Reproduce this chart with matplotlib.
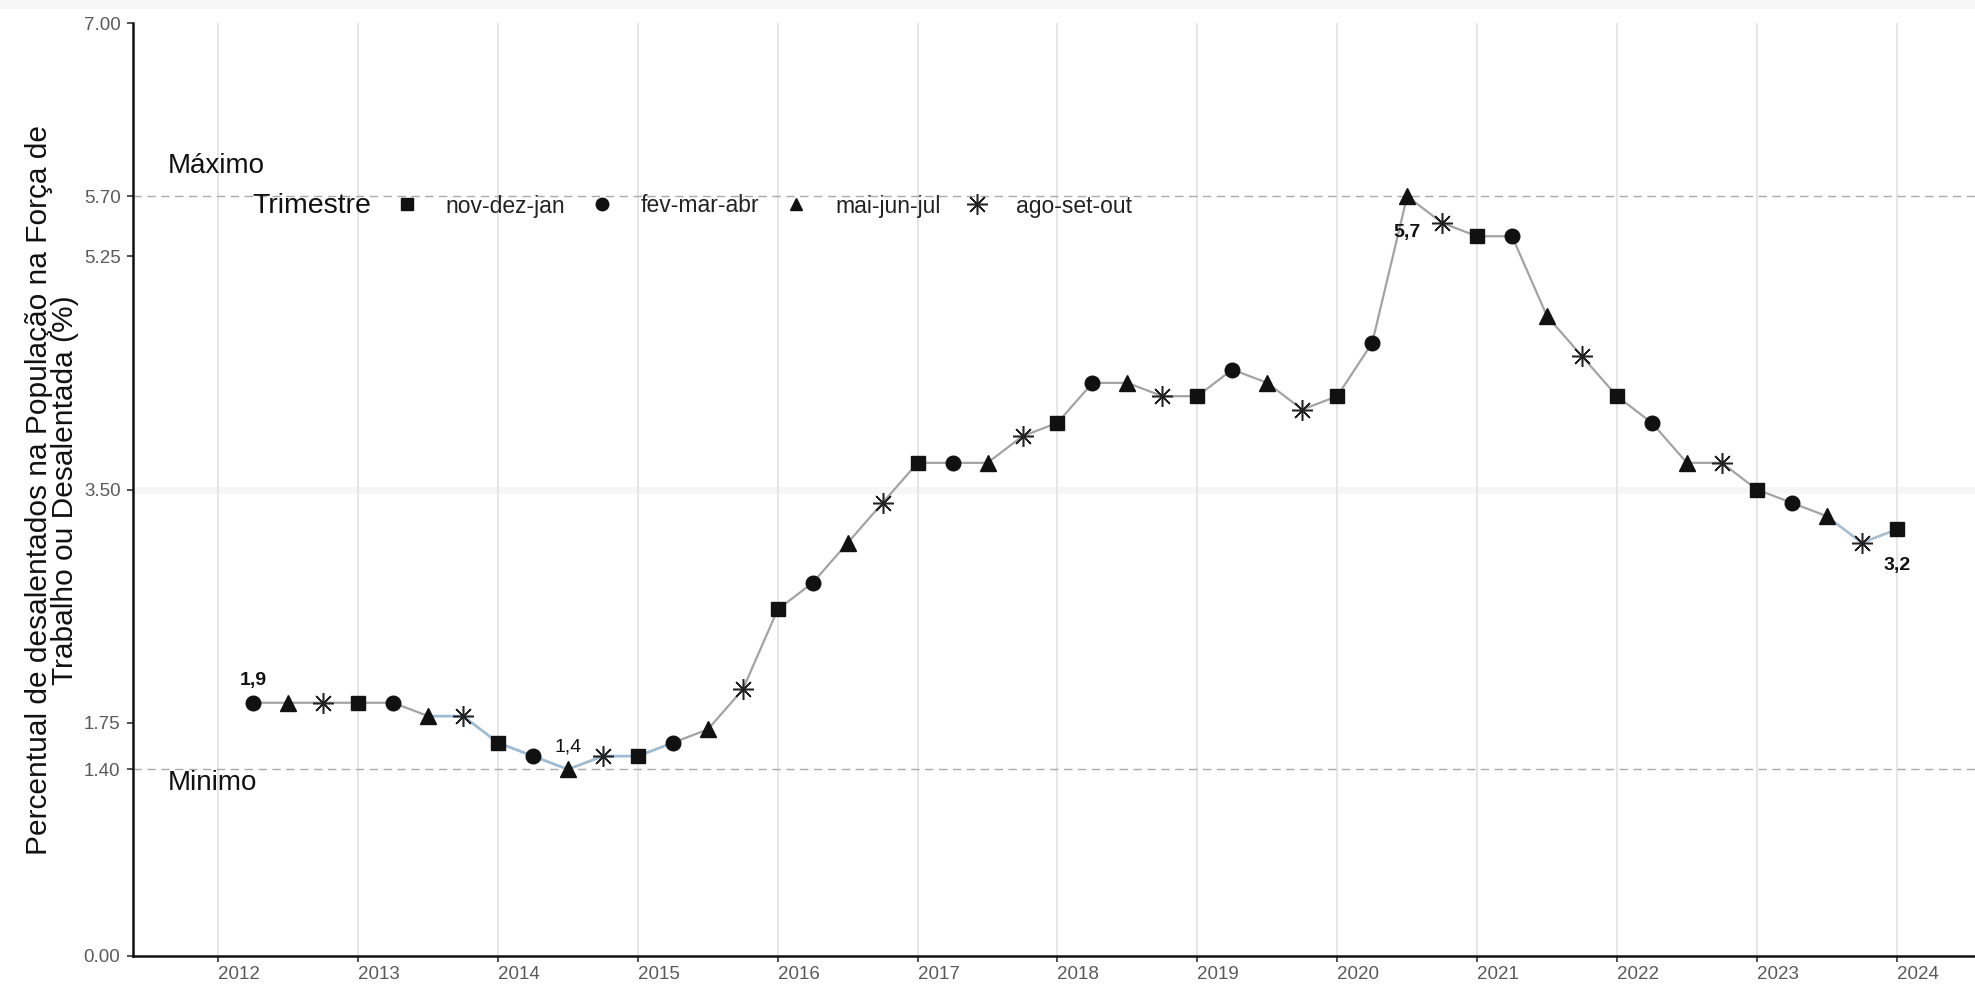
import matplotlib
matplotlib.use("Agg")
import matplotlib.pyplot as plt
from matplotlib.patches import Rectangle
from matplotlib.lines import Line2D
from matplotlib.ticker import FormatStrFormatter
import numpy as np

plt.rcParams['font.family'] = ['Liberation Sans', 'DejaVu Sans']

# ---- data ----
trimestres = ['nov-dez-jan', 'fev-mar-abr', 'mai-jun-jul', 'ago-set-out']
offset_trimestre = {'nov-dez-jan': 0.0, 'fev-mar-abr': 0.25, 'mai-jun-jul': 0.5, 'ago-set-out': 0.75}
marcadores = {'nov-dez-jan': 's', 'fev-mar-abr': 'o', 'mai-jun-jul': '^', 'ago-set-out': (8, 2, 0)}

ano = [2012, 2012, 2012]
trim = ['fev-mar-abr', 'mai-jun-jul', 'ago-set-out']
for a in range(2013, 2024):
    ano += [a, a, a, a]
    trim += ['nov-dez-jan', 'fev-mar-abr', 'mai-jun-jul', 'ago-set-out']
ano += [2024]
trim += ['nov-dez-jan']

valores = [1.9, 1.9, 1.9,
           1.9, 1.9, 1.8, 1.8,
           1.6, 1.5, 1.4, 1.5,
           1.5, 1.6, 1.7, 2.0,
           2.6, 2.8, 3.1, 3.4,
           3.7, 3.7, 3.7, 3.9,
           4.0, 4.3, 4.3, 4.2,
           4.2, 4.4, 4.3, 4.1,
           4.2, 4.6, 5.7, 5.5,
           5.4, 5.4, 4.8, 4.5,
           4.2, 4.0, 3.7, 3.7,
           3.5, 3.4, 3.3, 3.1,
           3.2]

maximo = 5.70
minimo = 1.40
y_breaks = [0.00, 1.40, 1.75, 3.50, 5.25, 5.70, 7.00]
x_breaks = list(range(2012, 2025))
rotulos = {0: ('1,9', 'above', 'bold'), 9: ('1,4', 'above', 'normal'),
           33: ('5,7', 'below', 'bold'), 47: ('3,2', 'below', 'bold')}

x = np.array(ano, dtype=float) + np.array([offset_trimestre[t] for t in trim])
y = np.array(valores)

# ---- figure ----
fig = plt.figure(figsize=(19.75, 9.9), dpi=100)
fig.patches.append(Rectangle((0, 1 - 9 / 990), 1, 9 / 990, transform=fig.transFigure,
                             facecolor='#f6f6f6', edgecolor='none', zorder=0))
ax = fig.add_axes([133 / 1975, 34 / 990, 1 - 133 / 1975, (956 - 23) / 990])

ax.set_xlim(2011.39, 2024.56)
ax.set_ylim(0, 7)

ax.set_xticks(x_breaks)
ax.set_xticklabels([str(v) for v in x_breaks], ha='left')
ax.set_yticks(y_breaks)
ax.yaxis.set_major_formatter(FormatStrFormatter('%.2f'))
ax.tick_params(axis='both', labelsize=13.5, labelcolor='#5a5a5a', color='#333333',
               length=4, width=1.2)
ax.tick_params(axis='y', pad=5)
ax.grid(axis='x', color='#e6e6e6', linewidth=1.4)
ax.axhline(3.50, color='#f6f6f6', linewidth=5, zorder=0)
ax.set_axisbelow(True)
for s in ['top', 'right']:
    ax.spines[s].set_visible(False)
for s in ['left', 'bottom']:
    ax.spines[s].set_linewidth(1.8)
    ax.spines[s].set_color('#111111')

# reference lines
ax.axhline(maximo, color='#aaaaaa', linestyle=(0, (6, 4)), linewidth=1.0, zorder=1)
ax.axhline(minimo, color='#aaaaaa', linestyle=(0, (6, 4)), linewidth=1.0, zorder=1)
ax.text(2011.64, maximo + 0.23, 'Máximo', fontsize=20, va='center', ha='left', color='#111111')
ax.text(2011.64, minimo - 0.10, 'Minimo', fontsize=20, va='center', ha='left', color='#111111')

# line
ax.plot(x, y, color='#a3a3a3', linewidth=1.6, zorder=2)
ax.plot(x[5:13], y[5:13], color='#9dbcd6', linewidth=1.8, zorder=2)
ax.plot(x[45:48], y[45:48], color='#a9bfd2', linewidth=1.6, zorder=2)

# markers
for t in trimestres:
    idx = [i for i, tt in enumerate(trim) if tt == t]
    m = marcadores[t]
    if t == 'ago-set-out':
        ax.plot(x[idx], y[idx], linestyle='none', marker=m, markersize=15,
                markeredgewidth=1.1, color='#222222', zorder=3)
    else:
        ms = {'s': 10, 'o': 10.5, '^': 11.5}[m]
        ax.plot(x[idx], y[idx], linestyle='none', marker=m, markersize=ms,
                color='#111111', zorder=3)

# value labels
for i, (txt, pos, w) in rotulos.items():
    dy = 0.17 if pos == 'above' else -0.27
    ax.text(x[i], y[i] + dy, txt, fontsize=14, fontweight=w, ha='center', va='center',
            color='#111111', zorder=4)

# legend
fig.text(252 / 1975, 1 - 206 / 990, 'Trimestre', fontsize=20.5, va='center', ha='left', color='#111111')
handles = []
for t in trimestres:
    m = marcadores[t]
    if t == 'ago-set-out':
        h = Line2D([], [], linestyle='none', marker=m, markersize=15, markeredgewidth=1.1,
                   color='#222222')
    else:
        h = Line2D([], [], linestyle='none', marker=m, markersize=9, color='#111111')
    handles.append(h)
leg = fig.legend(handles, trimestres, loc='center left', bbox_to_anchor=(393 / 1975, 1 - 206 / 990),
                 ncol=4, frameon=False, fontsize=16.5, handlelength=1.2, handletextpad=1.1,
                 columnspacing=1.0, borderpad=0, borderaxespad=0)
for txt in leg.get_texts():
    txt.set_color('#222222')

fig.text(52 / 1975, 0.505,
         'Percentual de desalentados na População na Força de\nTrabalho ou Desalentada (%)',
         rotation=90, fontsize=21.5, ha='center', va='center', linespacing=0.88, color='#111111')

fig.savefig('out.png', dpi=100, facecolor='white')
